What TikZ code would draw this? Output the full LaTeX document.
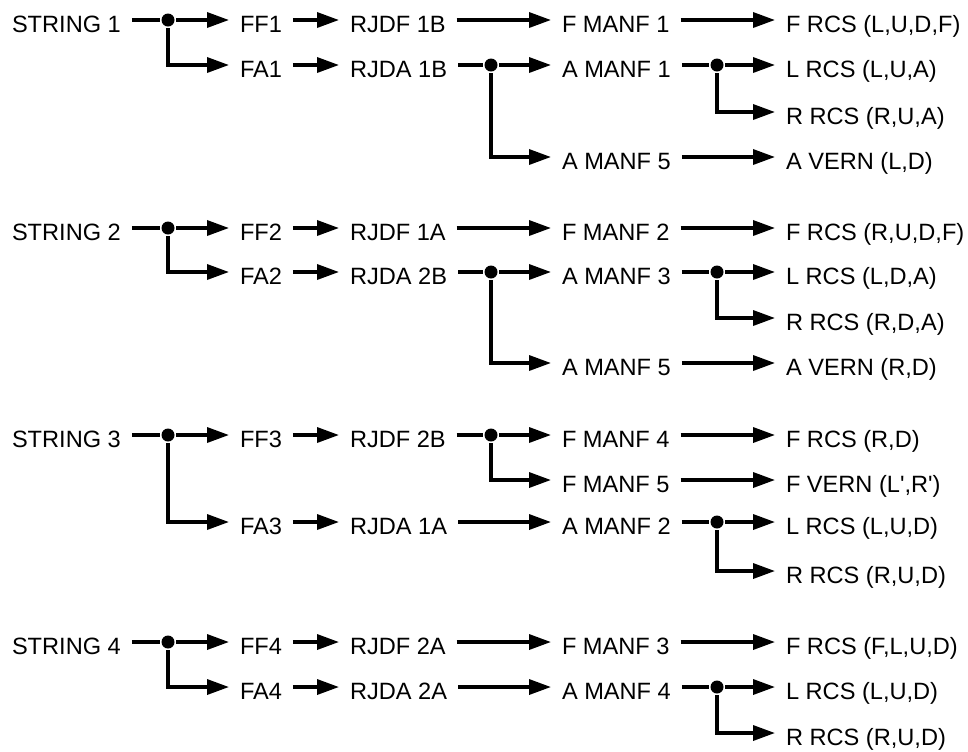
\documentclass[tikz,border=0pt]{standalone}
\usepackage{fontspec}
\setmainfont{Liberation Sans}
\usetikzlibrary{arrows.meta}
\tikzset{
  lbl/.style={anchor=west, inner sep=0pt, outer xsep=5.5pt, text height=12pt, text depth=0pt},
  dot/.style={circle, fill, inner sep=0pt, minimum size=6.5pt},
  arr/.style={-{Triangle[length=11pt,width=7.5pt]}},
}
\begin{document}
\begin{tikzpicture}[x=0.5pt, y=-0.5pt, line width=1.7pt, font=\fontsize{11.8pt}{14pt}\selectfont]
  \useasboundingbox (0,0) rectangle (968,751);
  \foreach \n/\y/\ya/\f/\a in {1/20/65/1B/1B, 2/228/272/1A/2B, 3/435/522/2B/1A, 4/642/687/2A/2A} {
    \node[lbl] (s\n) at (1,\y) {STRING \n};
    \node[dot] (s\n d) at (168,\y) {};
    \node[lbl] (ff\n) at (229,\y) {FF\n};
    \node[lbl] (fa\n) at (229,\ya) {FA\n};
    \node[lbl] (rjdf\n) at (339,\y) {RJDF \f};
    \node[lbl] (rjda\n) at (339,\ya) {RJDA \a};
    \draw (s\n) -- (s\n d);
    \draw[arr] (s\n d) -- (ff\n);
    \draw[arr] (s\n d) |- (fa\n);
    \draw[arr] (ff\n) -- (rjdf\n);
    \draw[arr] (fa\n) -- (rjda\n);
  }
  % string 1
  \node[dot] (rjda1d) at (491,65) {};
  \node[lbl] (fmanf1) at (551,20) {F MANF 1};
  \node[lbl] (amanf1) at (551,65) {A MANF 1};
  \node[lbl] (amanf5a) at (551,157) {A MANF 5};
  \node[dot] (amanf1d) at (717,65) {};
  \node[lbl] (frcs1) at (775,20) {F RCS (L,U,D,F)};
  \node[lbl] (lrcs1) at (775,65) {L RCS (L,U,A)};
  \node[lbl] (rrcs1) at (775,112) {R RCS (R,U,A)};
  \node[lbl] (avern1) at (775,157) {A VERN (L,D)};
  \draw[arr] (rjdf1) -- (fmanf1);
  \draw (rjda1) -- (rjda1d);
  \draw[arr] (rjda1d) -- (amanf1);
  \draw[arr] (rjda1d) |- (amanf5a);
  \draw[arr] (fmanf1) -- (frcs1);
  \draw (amanf1) -- (amanf1d);
  \draw[arr] (amanf1d) -- (lrcs1);
  \draw[arr] (amanf1d) |- (rrcs1);
  \draw[arr] (amanf5a) -- (avern1);
  % string 2
  \node[dot] (rjda2d) at (491,272) {};
  \node[lbl] (fmanf2) at (551,228) {F MANF 2};
  \node[lbl] (amanf3) at (551,272) {A MANF 3};
  \node[lbl] (amanf5b) at (551,363) {A MANF 5};
  \node[dot] (amanf3d) at (717,272) {};
  \node[lbl] (frcs2) at (775,228) {F RCS (R,U,D,F)};
  \node[lbl] (lrcs2) at (775,272) {L RCS (L,D,A)};
  \node[lbl] (rrcs2) at (775,318) {R RCS (R,D,A)};
  \node[lbl] (avern2) at (775,363) {A VERN (R,D)};
  \draw[arr] (rjdf2) -- (fmanf2);
  \draw (rjda2) -- (rjda2d);
  \draw[arr] (rjda2d) -- (amanf3);
  \draw[arr] (rjda2d) |- (amanf5b);
  \draw[arr] (fmanf2) -- (frcs2);
  \draw (amanf3) -- (amanf3d);
  \draw[arr] (amanf3d) -- (lrcs2);
  \draw[arr] (amanf3d) |- (rrcs2);
  \draw[arr] (amanf5b) -- (avern2);
  % string 3
  \node[dot] (rjdf3d) at (491,435) {};
  \node[lbl] (fmanf4) at (551,435) {F MANF 4};
  \node[lbl] (fmanf5) at (551,480) {F MANF 5};
  \node[lbl] (amanf2) at (551,522) {A MANF 2};
  \node[dot] (amanf2d) at (717,522) {};
  \node[lbl] (frcs3) at (775,435) {F RCS (R,D)};
  \node[lbl] (fvern3) at (775,480) {F VERN (L\textquotesingle,R\textquotesingle)};
  \node[lbl] (lrcs3) at (775,522) {L RCS (L,U,D)};
  \node[lbl] (rrcs3) at (775,571) {R RCS (R,U,D)};
  \draw (rjdf3) -- (rjdf3d);
  \draw[arr] (rjdf3d) -- (fmanf4);
  \draw[arr] (rjdf3d) |- (fmanf5);
  \draw[arr] (rjda3) -- (amanf2);
  \draw[arr] (fmanf4) -- (frcs3);
  \draw[arr] (fmanf5) -- (fvern3);
  \draw (amanf2) -- (amanf2d);
  \draw[arr] (amanf2d) -- (lrcs3);
  \draw[arr] (amanf2d) |- (rrcs3);
  % string 4
  \node[lbl] (fmanf3) at (551,642) {F MANF 3};
  \node[lbl] (amanf4) at (551,687) {A MANF 4};
  \node[dot] (amanf4d) at (717,687) {};
  \node[lbl] (frcs4) at (775,642) {F RCS (F,L,U,D)};
  \node[lbl] (lrcs4) at (775,687) {L RCS (L,U,D)};
  \node[lbl] (rrcs4) at (775,733) {R RCS (R,U,D)};
  \draw[arr] (rjdf4) -- (fmanf3);
  \draw[arr] (rjda4) -- (amanf4);
  \draw[arr] (fmanf3) -- (frcs4);
  \draw (amanf4) -- (amanf4d);
  \draw[arr] (amanf4d) -- (lrcs4);
  \draw[arr] (amanf4d) |- (rrcs4);
\end{tikzpicture}
\end{document}
